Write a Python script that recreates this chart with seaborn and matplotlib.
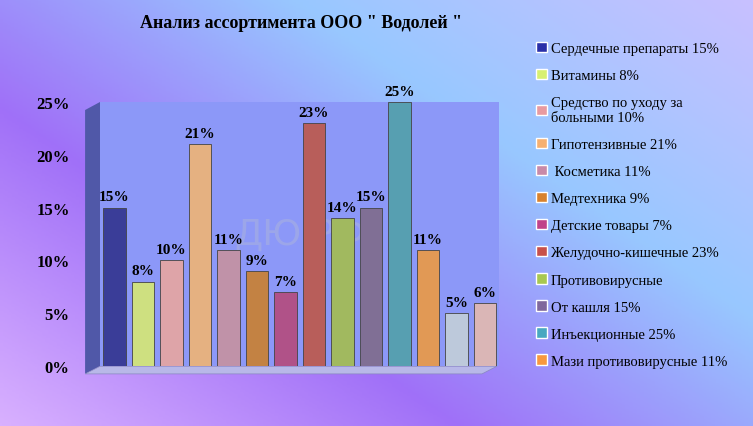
import numpy as np
import pandas as pd
import matplotlib.pyplot as plt
import seaborn as sns
from matplotlib.colors import LinearSegmentedColormap
from matplotlib.patches import Patch, Polygon

categories = ["Сердечные препараты 15%", "Витамины 8%",
              "Средство по уходу за\nбольными 10%", "Гипотензивные 21%",
              " Косметика 11%", "Медтехника 9%", "Детские товары 7%",
              "Желудочно-кишечные 23%", "Противовирусные", "От кашля 15%",
              "Инъекционные 25%", "Мази противовирусные 11%",
              "Прочее 5%", "Прочее 6%"]
values = [15, 8, 10, 21, 11, 9, 7, 23, 14, 15, 25, 11, 5, 6]
colors = ["#2a2fa8", "#d8f070", "#e89aa0", "#f6b070", "#c88aa8", "#d8822e",
          "#c0428a", "#c8504a", "#a8c850", "#80689c", "#48a8c0", "#f8983e",
          "#b8c8e0", "#e0b0b0"]
n_legend = 12

sns.set_theme(style="white")
plt.rcParams['font.family'] = ['Liberation Serif', 'DejaVu Serif']

fig = plt.figure(figsize=(7.53, 4.27), dpi=100)

# gradient background
bg = fig.add_axes([0, 0, 1, 1])
cmap = LinearSegmentedColormap.from_list("bg", ["#d8b0ff", "#a070f8", "#98c8ff", "#c8c0ff"])
yy, xx = np.mgrid[0:1:200j, 0:1:200j]
bg.imshow(0.55 * xx + 0.45 * (1 - yy), cmap=cmap, aspect="auto", extent=[0, 1, 0, 1])
bg.set_xlim(0, 1)
bg.set_ylim(0, 1)
# side wall and floor of the 3D box
bg.add_patch(Polygon([(0.113, 0.122), (0.133, 0.14), (0.133, 0.759), (0.113, 0.74)],
                     closed=True, facecolor="#5058a8", edgecolor="none"))
bg.add_patch(Polygon([(0.113, 0.122), (0.133, 0.14), (0.66, 0.14), (0.64, 0.122)],
                     closed=True, facecolor="#b8b8e8", edgecolor="#8888c0", lw=0.5))
bg.set_axis_off()

ax = fig.add_axes([0.133, 0.14, 0.53, 0.619])
df = pd.DataFrame({"cat": categories, "val": [v / 100 for v in values]})
ax.text(0.5, 0.5, "ДЮ.РФ", transform=ax.transAxes, fontsize=26, color="#a8b0e0",
        alpha=0.6, ha="center", va="center", family="DejaVu Sans", zorder=0)
sns.barplot(data=df, x="cat", y="val", hue="cat", palette=colors, legend=False,
            ax=ax, width=0.8, edgecolor="#444444", linewidth=0.6, zorder=2)
ax.set_facecolor("#8c98f8")
ax.set_ylim(0, 0.25)
ax.set_yticks(np.arange(0, 0.26, 0.05))
ax.set_yticklabels([f"{int(t*100)}%" for t in np.arange(0, 0.26, 0.05)],
                   fontsize=12, fontweight="bold", color="black")
ax.tick_params(axis="y", pad=16)
ax.set_xticks([])
ax.set_xlabel("")
ax.set_ylabel("")
for s in ax.spines.values():
    s.set_visible(False)
for i, v in enumerate(values):
    ax.text(i, v / 100 + 0.004, f"{v}%", ha="center", va="bottom", color="black",
            fontsize=11, fontweight="bold", clip_on=False, zorder=3)

fig.text(0.40, 0.935, 'Анализ ассортимента ООО " Водолей "', ha="center",
         fontsize=13, fontweight="bold", color="black")

handles = [Patch(facecolor=colors[i], edgecolor="white") for i in range(n_legend)]
leg = fig.legend(handles, categories[:n_legend], loc="upper left",
                 bbox_to_anchor=(0.695, 0.93), frameon=False, fontsize=10.5,
                 handlelength=0.7, handleheight=0.7, handletextpad=0.3,
                 labelspacing=0.95)
for t in leg.get_texts():
    t.set_color("black")

fig.savefig("out.png", dpi=100)
